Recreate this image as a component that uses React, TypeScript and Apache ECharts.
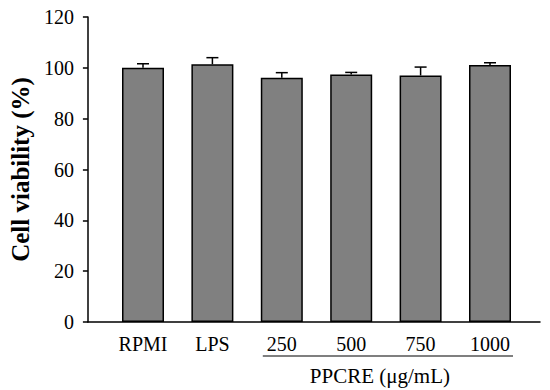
import React, { useEffect, useRef } from "react";
import * as echarts from "echarts";

const categories = ["RPMI", "LPS", "250", "500", "750", "1000"];
const meanValues = [100.0, 101.4, 96.1, 97.4, 97.0, 101.1];
const errorValues = [1.6, 2.6, 2.0, 0.8, 3.3, 0.9];
const yTicks = { min: 0, max: 120, interval: 20 };
const groupLabel = "PPCRE (μg/mL)";
const yTitle = "Cell viability (%)";

const FONT = "'Liberation Serif', 'Times New Roman', serif";

export default function App() {
  const ref = useRef<HTMLDivElement>(null);
  useEffect(() => {
    if (!ref.current) return;
    const chart = echarts.init(ref.current, undefined, { renderer: "svg" });
    const top = 17;
    const bottom = 68;
    chart.setOption({
      animation: false,
      backgroundColor: "#ffffff",
      grid: [
        { left: 86, right: 10, top, bottom },
        { left: 108.3, right: 25.3, top, bottom },
      ],
      xAxis: [
        {
          type: "value",
          gridIndex: 0,
          min: 0,
          max: 1,
          axisLine: { show: true, lineStyle: { color: "#000", width: 1.5 } },
          axisTick: { show: false },
          axisLabel: { show: false },
          splitLine: { show: false },
        },
        {
          type: "category",
          gridIndex: 1,
          data: categories,
          axisLine: { show: false },
          axisTick: { show: false },
          axisLabel: { color: "#000", fontFamily: FONT, fontSize: 20, margin: 12 },
        },
      ],
      yAxis: [
        {
          type: "value",
          gridIndex: 0,
          min: yTicks.min,
          max: yTicks.max,
          interval: yTicks.interval,
          axisLine: { show: true, lineStyle: { color: "#000", width: 1.5 } },
          axisTick: { show: true, inside: false, length: 5, lineStyle: { color: "#000", width: 1.5 } },
          axisLabel: { color: "#000", fontFamily: FONT, fontSize: 20, margin: 14 },
          splitLine: { show: false },
          name: yTitle,
          nameLocation: "middle",
          nameGap: 49,
          nameTextStyle: { color: "#000", fontFamily: FONT, fontSize: 25, fontWeight: "bold" },
        },
        {
          type: "value",
          gridIndex: 1,
          min: yTicks.min,
          max: yTicks.max,
          show: false,
        },
      ],
      series: [
        {
          type: "bar",
          xAxisIndex: 1,
          yAxisIndex: 1,
          data: meanValues,
          barWidth: 42,
          itemStyle: { color: "#808080", borderColor: "#000", borderWidth: 1.5 },
          z: 2,
        },
        {
          type: "custom",
          xAxisIndex: 1,
          yAxisIndex: 1,
          data: meanValues.map((m, i) => [i, m, errorValues[i]]),
          z: 1,
          renderItem: (params: any, api: any) => {
            const i = api.value(0);
            const m = api.value(1);
            const e = api.value(2);
            const base = api.coord([i, m]);
            const tip = api.coord([i, m + e]);
            const half = 6;
            const style = { stroke: "#000", lineWidth: 1.5, fill: "none" };
            return {
              type: "group",
              children: [
                { type: "line", shape: { x1: base[0], y1: base[1], x2: tip[0], y2: tip[1] }, style },
                { type: "line", shape: { x1: tip[0] - half, y1: tip[1], x2: tip[0] + half, y2: tip[1] }, style },
              ],
            };
          },
        },
      ],
    });

    const p0 = chart.convertToPixel({ xAxisIndex: 1, yAxisIndex: 1 } as any, [2, 0]) as number[];
    const p1 = chart.convertToPixel({ xAxisIndex: 1, yAxisIndex: 1 } as any, [5, 0]) as number[];
    const halfBar = 21;
    const lineY = p0[1] + 34;
    const x1 = p0[0] - halfBar + 2;
    const x2 = p1[0] + halfBar + 2;
    chart.setOption({
      graphic: [
        {
          type: "line",
          shape: { x1, y1: lineY, x2, y2: lineY },
          style: { stroke: "#000", lineWidth: 1.2 },
        },
        {
          type: "text",
          x: (x1 + x2) / 2 - 8,
          y: lineY + 9,
          style: {
            text: groupLabel,
            fill: "#000",
            font: `21px ${FONT}`,
            textAlign: "center",
            textVerticalAlign: "top",
          },
        },
      ],
    });

    return () => chart.dispose();
  }, []);
  return (
    <div
      ref={ref}
      style={{ width: 550, height: 390, position: "absolute", left: 0, top: 0 }}
    />
  );
}
